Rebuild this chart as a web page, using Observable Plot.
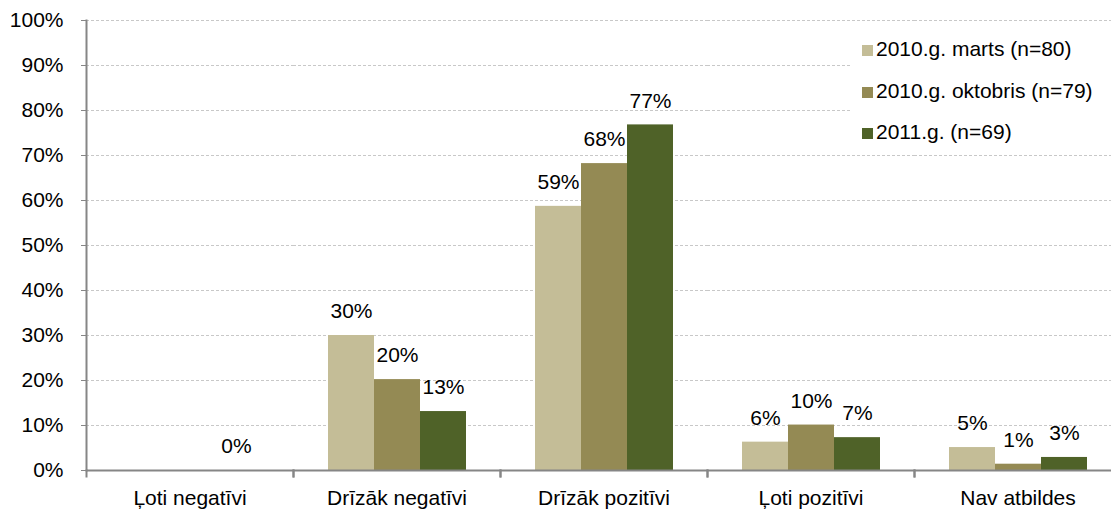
<!DOCTYPE html>
<html><head><meta charset="utf-8">
<script src="https://cdn.jsdelivr.net/npm/d3@7"></script>
<script src="https://cdn.jsdelivr.net/npm/@observablehq/plot@0.6"></script>
<style>
body{margin:0;background:#fff;font-family:"Liberation Sans",Arial,sans-serif;overflow:hidden;}
#wrap{position:relative;width:1111px;height:516px;overflow:hidden;}
#legend{position:absolute;left:852px;top:27px;width:259px;height:126px;background:#fff;font-size:21px;color:#000;}
.row{position:absolute;left:10px;height:24px;line-height:24px;white-space:nowrap;}
.sw{display:inline-block;width:11px;height:11px;margin-right:3px;vertical-align:0px;}
</style></head><body><div id="wrap"></div>
<script>
const categories = ["Ļoti negatīvi", "Drīzāk negatīvi", "Drīzāk pozitīvi", "Ļoti pozitīvi", "Nav atbildes"];
const series = ["2010.g. marts (n=80)", "2010.g. oktobris (n=79)", "2011.g. (n=69)"];
const marts = [null, 30, 58.7, 6.3, 5.1];
const oktobris = [null, 20.2, 68.2, 10.1, 1.4];
const y2011 = [0, 13.1, 76.8, 7.3, 2.9];
const yTicks = [0, 10, 20, 30, 40, 50, 60, 70, 80, 90, 100];
const colors = ["#C4BD97", "#948A54", "#4F6228"];

const seriesValues = [marts, oktobris, y2011];
const data = [];
categories.forEach((c, i) => {
  seriesValues.forEach((arr, j) => {
    if (arr[i] != null) data.push({category: c, series: series[j], value: arr[i]});
  });
});

const axisColor = "#868686";
const fs = 21;
const plot = Plot.plot({
  width: 1111, height: 516,
  marginLeft: 86, marginRight: -10, marginTop: 20, marginBottom: 46,
  style: {fontFamily: "'Liberation Sans', Arial, sans-serif", fontSize: fs + "px", color: "#000", background: "#fff", overflow: "hidden"},
  fx: {domain: categories, padding: 0, label: null},
  x: {domain: series, paddingInner: 0, paddingOuter: 0.745, axis: null},
  y: {domain: [0, 100], label: null},
  color: {domain: series, range: colors},
  marks: [
    Plot.gridY({ticks: yTicks.slice(1), stroke: "#c8c8c8", strokeOpacity: 1, strokeDasharray: "3,2"}),
    Plot.barY(data, {fx: "category", x: "series", y: "value", fill: "series"}),
    Plot.text(data, {fx: "category", x: "series", y: "value", text: d => Math.round(d.value) + "%", dy: -24, fontSize: fs, fill: "#000"}),
    Plot.ruleY([0], {stroke: axisColor, strokeWidth: 2}),
    Plot.axisY({ticks: yTicks, tickFormat: d => d + "%", tickSize: 5, tickPadding: 18, stroke: axisColor, label: null, fontSize: fs}),
    Plot.axisFx({anchor: "bottom", tickSize: 0, tickPadding: 20, label: null, fontSize: fs}),
    Plot.frame({anchor: "left", facet: "super", stroke: axisColor, strokeWidth: 2}),
    Plot.frame({anchor: "left", insetTop: 450, insetBottom: -6, stroke: axisColor, strokeWidth: 2}),
    Plot.frame({anchor: "right", insetTop: 450, insetBottom: -6, stroke: axisColor, strokeWidth: 2})
  ]
});
const wrap = document.getElementById("wrap");
wrap.appendChild(plot);

const legend = document.createElement("div");
legend.id = "legend";
series.forEach((s, j) => {
  const row = document.createElement("div");
  row.className = "row";
  row.style.top = (10 + j * 41.5) + "px";
  const sw = document.createElement("span");
  sw.className = "sw";
  sw.style.background = colors[j];
  row.appendChild(sw);
  row.appendChild(document.createTextNode(s));
  legend.appendChild(row);
});
wrap.appendChild(legend);
</script></body></html>
